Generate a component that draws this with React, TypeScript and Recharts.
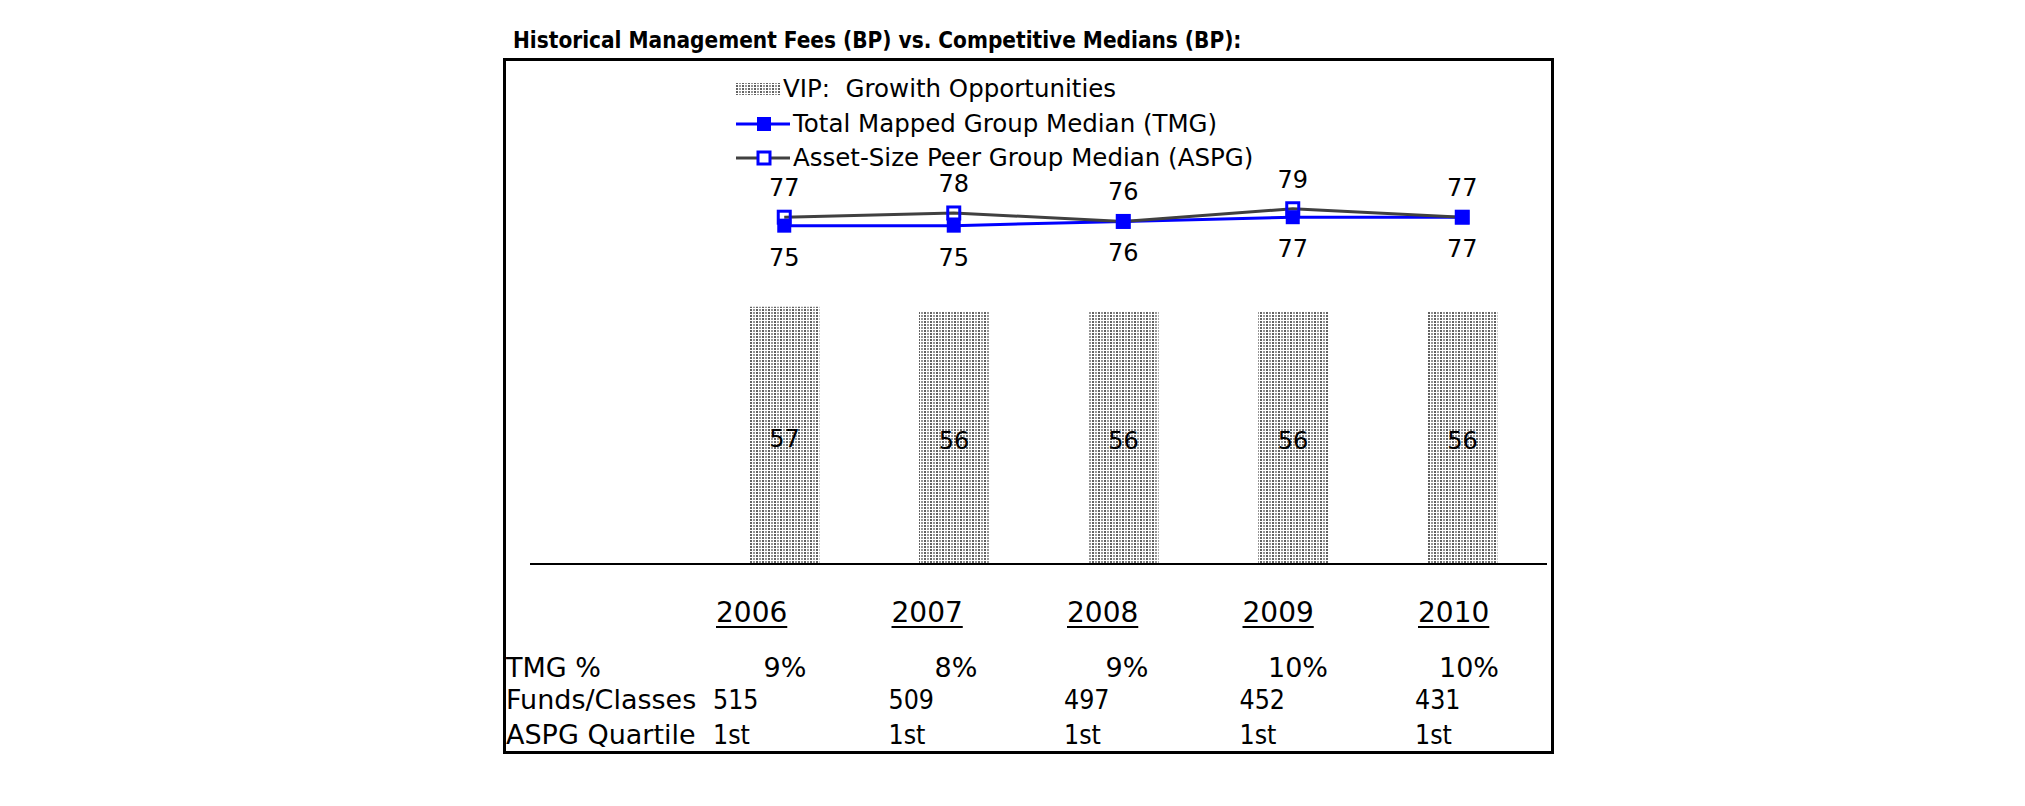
import React from "react";
import { Bar, ComposedChart, LabelList, Line, XAxis, YAxis } from "recharts";

const years = ["2006", "2007", "2008", "2009", "2010"];
const vipFees = [57, 56, 56, 56, 56];
const tmgMedian = [75, 75, 76, 77, 77];
const aspgMedian = [77, 78, 76, 79, 77];

const tmgPercent = ["9%", "8%", "9%", "10%", "10%"];
const fundsClasses = ["515", "509", "497", "452", "431"];
const aspgQuartile = ["1st", "1st", "1st", "1st", "1st"];

const seriesNames = {
  vip: "VIP:  Growith Opportunities",
  tmg: "Total Mapped Group Median (TMG)",
  aspg: "Asset-Size Peer Group Median (ASPG)",
};
const legendOrder: Array<keyof typeof seriesNames> = ["vip", "tmg", "aspg"];

const data = years.map((year, i) => ({
  year,
  vip: vipFees[i],
  tmg: tmgMedian[i],
  aspg: aspgMedian[i],
}));

const BLUE = "#0000ff";
const GREY = "#404040";
const FONT = '"DejaVu Sans", Verdana, sans-serif';
const NARROW = '"DejaVu Sans Condensed", "DejaVu Sans", sans-serif';
const TITLE_FONT = '"Liberation Sans Narrow", "DejaVu Sans Condensed", "Liberation Sans", sans-serif';

function TmgDot(props: any) {
  const { cx, cy, index } = props;
  if (cx == null || cy == null) return null;
  return <rect key={`tmg-${index}`} x={cx - 7} y={cy - 7} width={14} height={14} fill={BLUE} />;
}

function AspgDot(props: any) {
  const { cx, cy, index } = props;
  if (cx == null || cy == null) return null;
  return (
    <rect
      key={`aspg-${index}`}
      x={cx - 6}
      y={cy - 6}
      width={12}
      height={12}
      fill="none"
      stroke={BLUE}
      strokeWidth={3}
    />
  );
}

// label goes above the point when this series sits higher, below otherwise
function makeLineLabel(own: number[], other: number[], winsTie: boolean) {
  return (props: any) => {
    const { index, value } = props;
    const x = props.viewBox?.x ?? props.x;
    const y = props.viewBox?.y ?? props.y;
    const above = own[index] > other[index] || (own[index] === other[index] && winsTie);
    return (
      <text
        x={x}
        y={above ? y - 29 : y + 32}
        textAnchor="middle"
        dominantBaseline="central"
        fill="#000"
        fontSize={24}
        fontFamily={FONT}
      >
        {value}
      </text>
    );
  };
}

function ChartLegend() {
  return (
    <div style={{ position: "absolute", left: 736, top: 72, fontFamily: FONT, fontSize: 24.5, color: "#000" }}>
      {legendOrder.map((key) => (
        <div key={key} style={{ display: "flex", alignItems: "center", height: 34.5 }}>
          {key === "vip" ? (
            <svg width={47} height={20}>
              <rect x={0} y={4} width={45} height={12} fill="url(#vipDots)" />
            </svg>
          ) : (
            <svg width={57} height={20}>
              <line x1={0} y1={10} x2={54} y2={10} stroke={key === "tmg" ? BLUE : GREY} strokeWidth={3} />
              {key === "tmg" ? (
                <rect x={21} y={3} width={14} height={14} fill={BLUE} />
              ) : (
                <rect x={22} y={4} width={12} height={12} fill="#fff" stroke={BLUE} strokeWidth={3} />
              )}
            </svg>
          )}
          <span style={{ whiteSpace: "pre", lineHeight: "26px" }}>{seriesNames[key]}</span>
        </div>
      ))}
    </div>
  );
}

const tableCell = (left: number, top: number, text: string, extra: React.CSSProperties = {}) => (
  <div
    key={`${left}-${top}-${text}`}
    style={{ position: "absolute", left, top, lineHeight: "30px", whiteSpace: "pre", ...extra }}
  >
    {text}
  </div>
);

export default function App() {
  const colStart = (i: number) => 716 + i * 175.5;
  const colCenter = (i: number) => 785 + i * 171;

  return (
    <div
      style={{
        position: "absolute",
        left: 0,
        top: 0,
        width: 2025,
        height: 806,
        background: "#fff",
        fontFamily: FONT,
        color: "#000",
      }}
    >
      <div
        style={{
          position: "absolute",
          left: 513,
          top: 26,
          fontFamily: TITLE_FONT,
          fontWeight: "bold",
          fontSize: 22.4,
          lineHeight: "28px",
          whiteSpace: "nowrap",
        }}
      >
        Historical Management Fees (BP) vs. Competitive Medians (BP):
      </div>

      <div
        style={{
          position: "absolute",
          left: 503,
          top: 58,
          width: 1051,
          height: 696,
          border: "3px solid #000",
          boxSizing: "border-box",
        }}
      />

      <div style={{ position: "absolute", left: 0, top: 0 }}>
        <ComposedChart
          width={2025}
          height={806}
          data={data}
          margin={{ top: 158, right: 478, bottom: 241, left: 530 }}
        >
          <defs>
            <pattern id="vipDots" width={6} height={3} patternUnits="userSpaceOnUse">
              <rect width={6} height={3} fill="#ffffff" />
              <rect x={0} y={0} width={2} height={2} fill="#626262" />
              <rect x={3} y={0} width={2} height={2} fill="#969696" />
            </pattern>
          </defs>
          <XAxis
            dataKey="year"
            padding={{ left: 169.5, right: 0 }}
            axisLine={{ stroke: "#000", strokeWidth: 2 }}
            tickLine={false}
            tick={false}
            height={1}
          />
          <YAxis yAxisId="left" domain={[0, 90]} hide />
          <YAxis yAxisId="right" orientation="right" domain={[-5, 91]} hide />
          <Bar
            yAxisId="left"
            dataKey="vip"
            name={seriesNames.vip}
            barSize={70}
            fill="url(#vipDots)"
            isAnimationActive={false}
          >
            <LabelList
              dataKey="vip"
              position="center"
              offset={0}
              dy={3}
              fill="#000"
              fontSize={24}
              fontFamily={FONT}
            />
          </Bar>
          <Line
            yAxisId="right"
            type="linear"
            dataKey="tmg"
            name={seriesNames.tmg}
            stroke={BLUE}
            strokeWidth={3}
            dot={TmgDot}
            activeDot={false}
            isAnimationActive={false}
          >
            <LabelList dataKey="tmg" content={makeLineLabel(tmgMedian, aspgMedian, true)} />
          </Line>
          <Line
            yAxisId="right"
            type="linear"
            dataKey="aspg"
            name={seriesNames.aspg}
            stroke={GREY}
            strokeWidth={3}
            dot={AspgDot}
            activeDot={false}
            isAnimationActive={false}
          >
            <LabelList dataKey="aspg" content={makeLineLabel(aspgMedian, tmgMedian, false)} />
          </Line>
        </ComposedChart>
      </div>

      <ChartLegend />

      <div style={{ position: "absolute", left: 0, top: 0, fontSize: 27 }}>
        {years.map((y, i) =>
          tableCell(colStart(i), 598, y, {
            fontSize: 28,
            textDecoration: "underline",
            textDecorationThickness: 2,
            textUnderlineOffset: 4,
          })
        )}
        {tableCell(506, 653, "TMG %")}
        {tableCell(506, 685, "Funds/Classes")}
        {tableCell(506, 720, "ASPG Quartile")}
        {tmgPercent.map((t, i) => (
          <div
            key={`pct-${i}`}
            style={{
              position: "absolute",
              left: colCenter(i) - 50,
              width: 100,
              top: 653,
              lineHeight: "30px",
              textAlign: "center",
              fontSize: 27,
            }}
          >
            {t}
          </div>
        ))}
        {fundsClasses.map((f, i) => tableCell(colStart(i) - 3, 685, f, { fontFamily: NARROW, fontSize: 26.5 }))}
        {aspgQuartile.map((q, i) => tableCell(colStart(i) - 3, 720, q, { fontFamily: NARROW, fontSize: 26.5 }))}
      </div>
    </div>
  );
}
